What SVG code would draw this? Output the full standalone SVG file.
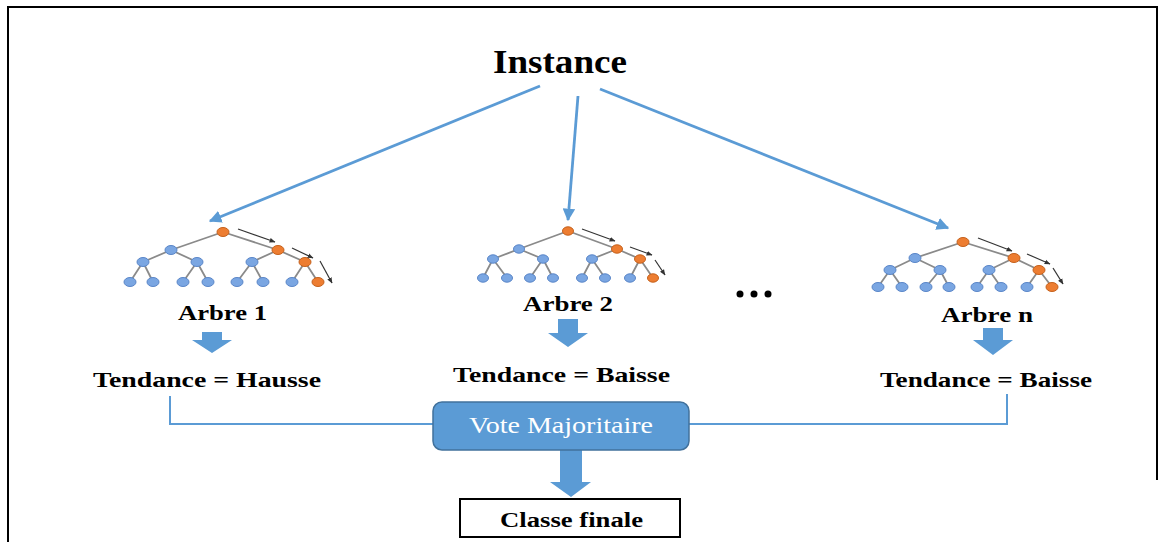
<svg xmlns="http://www.w3.org/2000/svg" width="1165" height="542" viewBox="0 0 1165 542">
<defs>
<style>
.t{font-family:"Liberation Serif","Times New Roman",serif;font-weight:bold;fill:#000;}
.edge{stroke:#8a8a8a;stroke-width:1.8;fill:none;}
.b{fill:#7aa6e2;stroke:#5a86c8;stroke-width:1;}
.o{fill:#ed7d31;stroke:#c5611c;stroke-width:1;}
.blk{stroke:#333;stroke-width:1.2;fill:none;marker-end:url(#ba);}
.conn{stroke:#5b9bd5;stroke-width:2.8;fill:none;}
.big{fill:#5b9bd5;}
</style>
<marker id="bl" viewBox="0 0 10 10" refX="9" refY="5" markerWidth="4.5" markerHeight="4.5" orient="auto" markerUnits="strokeWidth">
<path d="M0,0 L10,5 L0,10 z" fill="#5b9bd5"/>
</marker>
<marker id="ba" viewBox="0 0 10 10" refX="9" refY="5" markerWidth="5" markerHeight="5" orient="auto" markerUnits="strokeWidth">
<path d="M0,1 L10,5 L0,9 z" fill="#333"/>
</marker>
</defs>
<rect width="1165" height="542" fill="#fff"/>
<path d="M8,542 V7 H1157 V480" fill="none" stroke="#000" stroke-width="2"/>

<g id="instance"><text class="t" x="560" y="73" font-size="34" text-anchor="middle" textLength="134" lengthAdjust="spacingAndGlyphs">Instance</text></g>

<g id="connectors">
<path class="conn" d="M540,86 L210,221" marker-end="url(#bl)"/>
<path class="conn" d="M578,96 L568,220" marker-end="url(#bl)"/>
<path class="conn" d="M600,89 L948,228" marker-end="url(#bl)"/>
<polyline points="170,396 170,424 433,424" fill="none" stroke="#5b9bd5" stroke-width="2"/>
<polyline points="689,424 1007,424 1007,394" fill="none" stroke="#5b9bd5" stroke-width="2"/>
<polygon class="big" points="202,332 222,332 222,340 232,340 212,353 192,340 202,340"/>
<polygon class="big" points="558,319 578,319 578,333 588,333 568,347 548,333 558,333"/>
<polygon class="big" points="983,328 1003,328 1003,340 1013,340 993,355 973,340 983,340"/>
<polygon class="big" points="560,450 582,450 582,482 591,482 571,497 550,482 560,482"/>
</g>

<g id="tree1">
<path class="edge" d="M223,232 L171,250 M223,232 L278,250 M171,250 L143,262 M171,250 L197,262 M278,250 L252,262 M278,250 L305,262 M143,262 L130,282 M143,262 L153,282 M197,262 L183,282 M197,262 L208,282 M252,262 L237,282 M252,262 L263,282 M305,262 L292,282 M305,262 L318,282"/>
<ellipse class="o" cx="223" cy="232" rx="6" ry="4.5"/>
<ellipse class="b" cx="171" cy="250" rx="6" ry="4.5"/>
<ellipse class="o" cx="278" cy="250" rx="6" ry="4.5"/>
<ellipse class="b" cx="143" cy="262" rx="6" ry="4.5"/>
<ellipse class="b" cx="197" cy="262" rx="6" ry="4.5"/>
<ellipse class="b" cx="252" cy="262" rx="6" ry="4.5"/>
<ellipse class="o" cx="305" cy="262" rx="6" ry="4.5"/>
<ellipse class="b" cx="130" cy="282" rx="6" ry="4.5"/>
<ellipse class="b" cx="153" cy="282" rx="6" ry="4.5"/>
<ellipse class="b" cx="183" cy="282" rx="6" ry="4.5"/>
<ellipse class="b" cx="208" cy="282" rx="6" ry="4.5"/>
<ellipse class="b" cx="237" cy="282" rx="6" ry="4.5"/>
<ellipse class="b" cx="263" cy="282" rx="6" ry="4.5"/>
<ellipse class="b" cx="292" cy="282" rx="6" ry="4.5"/>
<ellipse class="o" cx="318" cy="282" rx="6" ry="4.5"/>
<path class="blk" d="M238,229 L275,242"/>
<path class="blk" d="M292,248 L313,258"/>
<path class="blk" d="M320,261 L332,283"/>
<text class="t" x="178" y="320" font-size="20" textLength="89" lengthAdjust="spacingAndGlyphs">Arbre 1</text>
</g>

<g id="tree2">
<path class="edge" d="M568,231 L519,249 M568,231 L617,249 M519,249 L493,259 M519,249 L543,259 M617,249 L592,259 M617,249 L640,259 M493,259 L483,278 M493,259 L507,278 M543,259 L530,278 M543,259 L553,278 M592,259 L582,278 M592,259 L605,278 M640,259 L630,278 M640,259 L653,278"/>
<ellipse class="o" cx="568" cy="231" rx="5.5" ry="4.2"/>
<ellipse class="b" cx="519" cy="249" rx="5.5" ry="4.2"/>
<ellipse class="o" cx="617" cy="249" rx="5.5" ry="4.2"/>
<ellipse class="b" cx="493" cy="259" rx="5.5" ry="4.2"/>
<ellipse class="b" cx="543" cy="259" rx="5.5" ry="4.2"/>
<ellipse class="b" cx="592" cy="259" rx="5.5" ry="4.2"/>
<ellipse class="o" cx="640" cy="259" rx="5.5" ry="4.2"/>
<ellipse class="b" cx="483" cy="278" rx="5.5" ry="4.2"/>
<ellipse class="b" cx="507" cy="278" rx="5.5" ry="4.2"/>
<ellipse class="b" cx="530" cy="278" rx="5.5" ry="4.2"/>
<ellipse class="b" cx="553" cy="278" rx="5.5" ry="4.2"/>
<ellipse class="b" cx="582" cy="278" rx="5.5" ry="4.2"/>
<ellipse class="b" cx="605" cy="278" rx="5.5" ry="4.2"/>
<ellipse class="b" cx="630" cy="278" rx="5.5" ry="4.2"/>
<ellipse class="o" cx="653" cy="278" rx="5.5" ry="4.2"/>
<path class="blk" d="M582,229 L615,241"/>
<path class="blk" d="M630,247 L652,255"/>
<path class="blk" d="M655,260 L665,275"/>
<text class="t" x="523" y="311" font-size="20" textLength="90" lengthAdjust="spacingAndGlyphs">Arbre 2</text>
</g>

<g id="dots">
<circle cx="740" cy="294" r="3.5" fill="#000"/>
<circle cx="754" cy="294" r="3.5" fill="#000"/>
<circle cx="768" cy="294" r="3.5" fill="#000"/>
</g>

<g id="tree3">
<path class="edge" d="M963,242 L915,258 M963,242 L1014,258 M915,258 L890,270 M915,258 L940,270 M1014,258 L989,270 M1014,258 L1039,270 M890,270 L878,287 M890,270 L902,287 M940,270 L926,287 M940,270 L949,287 M989,270 L977,287 M989,270 L1001,287 M1039,270 L1027,287 M1039,270 L1052,287"/>
<ellipse class="o" cx="963" cy="242" rx="6" ry="4.5"/>
<ellipse class="b" cx="915" cy="258" rx="6" ry="4.5"/>
<ellipse class="o" cx="1014" cy="258" rx="6" ry="4.5"/>
<ellipse class="b" cx="890" cy="270" rx="6" ry="4.5"/>
<ellipse class="b" cx="940" cy="270" rx="6" ry="4.5"/>
<ellipse class="b" cx="989" cy="270" rx="6" ry="4.5"/>
<ellipse class="o" cx="1039" cy="270" rx="6" ry="4.5"/>
<ellipse class="b" cx="878" cy="287" rx="6" ry="4.5"/>
<ellipse class="b" cx="902" cy="287" rx="6" ry="4.5"/>
<ellipse class="b" cx="926" cy="287" rx="6" ry="4.5"/>
<ellipse class="b" cx="949" cy="287" rx="6" ry="4.5"/>
<ellipse class="b" cx="977" cy="287" rx="6" ry="4.5"/>
<ellipse class="b" cx="1001" cy="287" rx="6" ry="4.5"/>
<ellipse class="b" cx="1027" cy="287" rx="6" ry="4.5"/>
<ellipse class="o" cx="1052" cy="287" rx="6" ry="4.5"/>
<path class="blk" d="M978,238 L1012,251"/>
<path class="blk" d="M1027,254 L1050,264"/>
<path class="blk" d="M1053,268 L1063,284"/>
<text class="t" x="941" y="322" font-size="20" textLength="92" lengthAdjust="spacingAndGlyphs">Arbre n</text>
</g>

<g id="res1"><text class="t" x="93" y="387" font-size="22" textLength="228" lengthAdjust="spacingAndGlyphs">Tendance = Hausse</text></g>
<g id="res2"><text class="t" x="453" y="382" font-size="22" textLength="217" lengthAdjust="spacingAndGlyphs">Tendance = Baisse</text></g>
<g id="res3"><text class="t" x="880" y="387" font-size="22" textLength="212" lengthAdjust="spacingAndGlyphs">Tendance = Baisse</text></g>

<g id="vote">
<rect x="433" y="402" width="256" height="48" rx="9" fill="#5b9bd5" stroke="#41719c" stroke-width="1.5"/>
<text x="561" y="433" font-family="Liberation Serif, Times New Roman, serif" font-size="24" fill="#fff" text-anchor="middle" textLength="184" lengthAdjust="spacingAndGlyphs">Vote Majoritaire</text>
</g>

<g id="classe">
<rect x="460" y="499" width="220" height="38" fill="#fff" stroke="#000" stroke-width="2"/>
<text class="t" x="500" y="527" font-size="20" textLength="143" lengthAdjust="spacingAndGlyphs">Classe finale</text>
</g>
</svg>
